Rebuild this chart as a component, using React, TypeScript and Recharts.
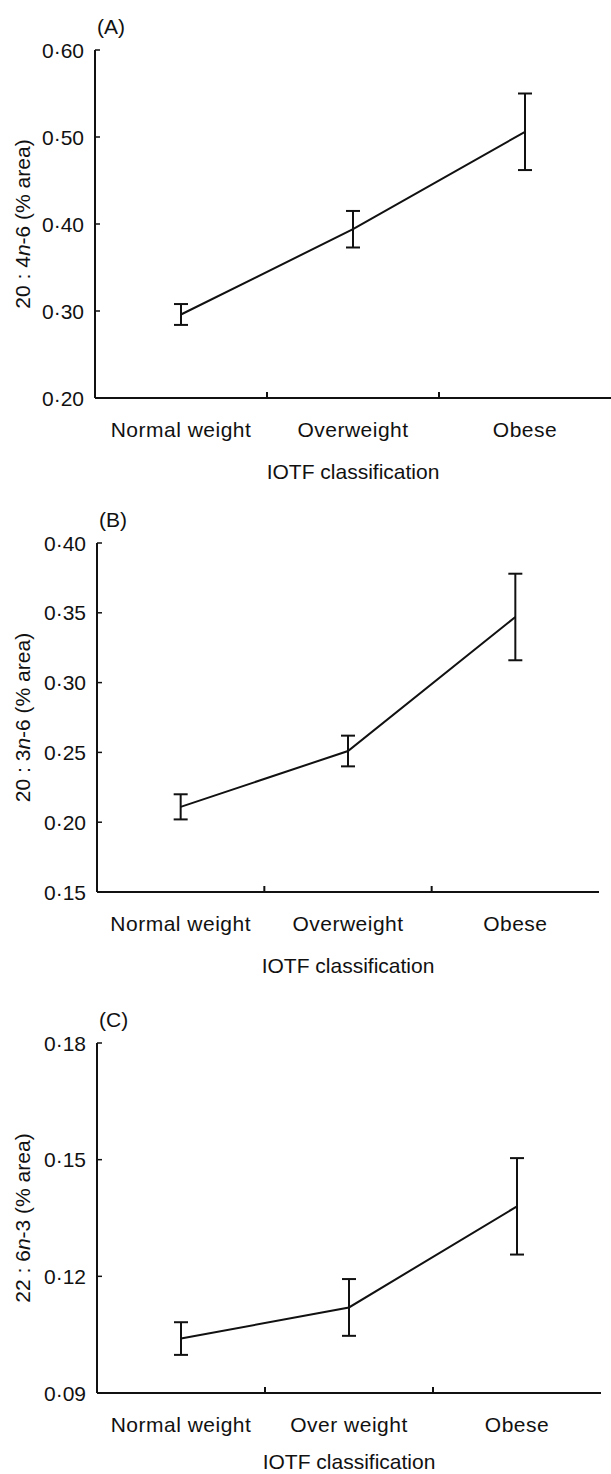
import React from 'react'
import { LineChart, Line, XAxis, YAxis, ErrorBar, Label } from 'recharts'

// IOTF weight classes
const categories = ['Normal weight', 'Overweight', 'Obese']
const categoriesC = ['Normal weight', 'Over weight', 'Obese']

// (A) 20:4n-6, mean and SE (% area)
const aaMeans = [0.296, 0.394, 0.506]
const aaErrors = [0.012, 0.021, 0.044]
const aaTicks = [0.2, 0.3, 0.4, 0.5, 0.6]

// (B) 20:3n-6
const dglaMeans = [0.211, 0.251, 0.347]
const dglaErrors = [0.009, 0.011, 0.031]
const dglaTicks = [0.15, 0.2, 0.25, 0.3, 0.35, 0.4]

// (C) 22:6n-3
const dhaMeans = [0.104, 0.112, 0.138]
const dhaErrors = [0.0042, 0.0073, 0.0124]
const dhaTicks = [0.09, 0.12, 0.15, 0.18]

const FONT = '"Liberation Sans", Arial, Helvetica, sans-serif'
const INK = '#111'
const AXIS_H = 80

interface PanelProps {
  letter: string
  titleLeft: string
  titleRight: string
  labels: string[]
  means: number[]
  errors: number[]
  ticks: number[]
  height: number
  plotTop: number
  plotHeight: number
  plotLeft: number
  plotRight: number
  titleGap?: number
}

const fmt = (v: number) => v.toFixed(2).replace('.', '\u00b7')

function Panel({
  letter, titleLeft, titleRight, labels, means, errors, ticks,
  height, plotTop, plotHeight, plotLeft, plotRight, titleGap = 81,
}: PanelProps) {
  const data = labels.map((label, i) => ({
    x: i + 0.5,
    label,
    mean: means[i],
    err: errors[i],
  }))

  // label ticks at band centres, small marks at band edges
  const xTicks: number[] = []
  labels.forEach((_, i) => {
    xTicks.push(i + 0.5)
    if (i < labels.length - 1) xTicks.push(i + 1)
  })

  const renderXTick = (props: any) => {
    const { x, y, payload } = props
    const v = payload.value
    if (Number.isInteger(v)) {
      return <line x1={x} x2={x} y1={y} y2={y - 6} stroke={INK} strokeWidth={2} />
    }
    return (
      <text x={x} y={y + 39} textAnchor="middle" fontSize={21} fontFamily={FONT} fill={INK} letterSpacing={0.5}>
        {labels[Math.floor(v)]}
      </text>
    )
  }

  const renderYTick = (props: any) => {
    const { x, y, payload } = props
    return (
      <g>
        <line x1={x} x2={x + 5} y1={y} y2={y} stroke={INK} strokeWidth={1.5} />
        <text x={x - 11} y={y} dy="0.36em" textAnchor="end" fontSize={21} fontFamily={FONT} fill={INK}>
          {fmt(payload.value)}
        </text>
      </g>
    )
  }

  const yTitle = (props: any) => {
    const vb = props.viewBox
    const cy = vb.y + vb.height / 2
    return (
      <g>
        <text
          x={22} y={cy} textAnchor="middle" dominantBaseline="central"
          transform={`rotate(-90, 22, ${cy})`}
          fontSize={21} fontFamily={FONT} fill={INK}
        >
          {titleLeft}<tspan fontStyle="italic">n</tspan>{titleRight}
        </text>
        <text x={vb.x + vb.width + 2} y={vb.y - 24} dominantBaseline="central" fontSize={21} fontFamily={FONT} fill={INK}>
          {letter}
        </text>
      </g>
    )
  }

  const xTitle = (props: any) => {
    const vb = props.viewBox
    return (
      <text x={vb.x + vb.width / 2} y={vb.y + titleGap} textAnchor="middle" fontSize={21} fontFamily={FONT} fill={INK}>
        IOTF classification
      </text>
    )
  }

  return (
    <LineChart
      width={611}
      height={height}
      data={data}
      margin={{ top: plotTop, right: 611 - plotRight, bottom: height - plotTop - plotHeight - AXIS_H, left: 0 }}
    >
      <XAxis
        dataKey="x"
        type="number"
        domain={[0, labels.length]}
        ticks={xTicks}
        interval={0}
        height={AXIS_H}
        tickLine={false}
        tickSize={0}
        tickMargin={0}
        tick={renderXTick}
        axisLine={{ stroke: INK, strokeWidth: 2 }}
      >
        <Label content={xTitle} />
      </XAxis>
      <YAxis
        type="number"
        domain={[ticks[0], ticks[ticks.length - 1]]}
        ticks={ticks}
        interval={0}
        width={plotLeft}
        tickLine={false}
        tickSize={0}
        tickMargin={0}
        tick={renderYTick}
        axisLine={{ stroke: INK, strokeWidth: 2 }}
        allowDataOverflow
      >
        <Label content={yTitle} />
      </YAxis>
      <Line
        dataKey="mean"
        type="linear"
        stroke={INK}
        strokeWidth={2}
        dot={false}
        activeDot={false}
        isAnimationActive={false}
      >
        <ErrorBar dataKey="err" direction="y" width={7} stroke={INK} strokeWidth={2} isAnimationActive={false} />
      </Line>
    </LineChart>
  )
}

export default function App() {
  return (
    <div style={{ position: 'absolute', left: 0, top: 0, width: 611, height: 1474, background: '#fff' }}>
      <Panel
        letter="(A)" titleLeft="20 : 4" titleRight="-6 (% area)"
        labels={categories} means={aaMeans} errors={aaErrors} ticks={aaTicks}
        height={493} plotTop={50} plotHeight={348} plotLeft={95} plotRight={611}
      />
      <Panel
        letter="(B)" titleLeft="20 : 3" titleRight="-6 (% area)"
        labels={categories} means={dglaMeans} errors={dglaErrors} ticks={dglaTicks}
        height={500} plotTop={50} plotHeight={349} plotLeft={97} plotRight={599}
      />
      <Panel
        letter="(C)" titleLeft="22 : 6" titleRight="-3 (% area)"
        labels={categoriesC} means={dhaMeans} errors={dhaErrors} ticks={dhaTicks}
        height={481} plotTop={50} plotHeight={350} plotLeft={97} plotRight={601}
        titleGap={76}
      />
    </div>
  )
}
